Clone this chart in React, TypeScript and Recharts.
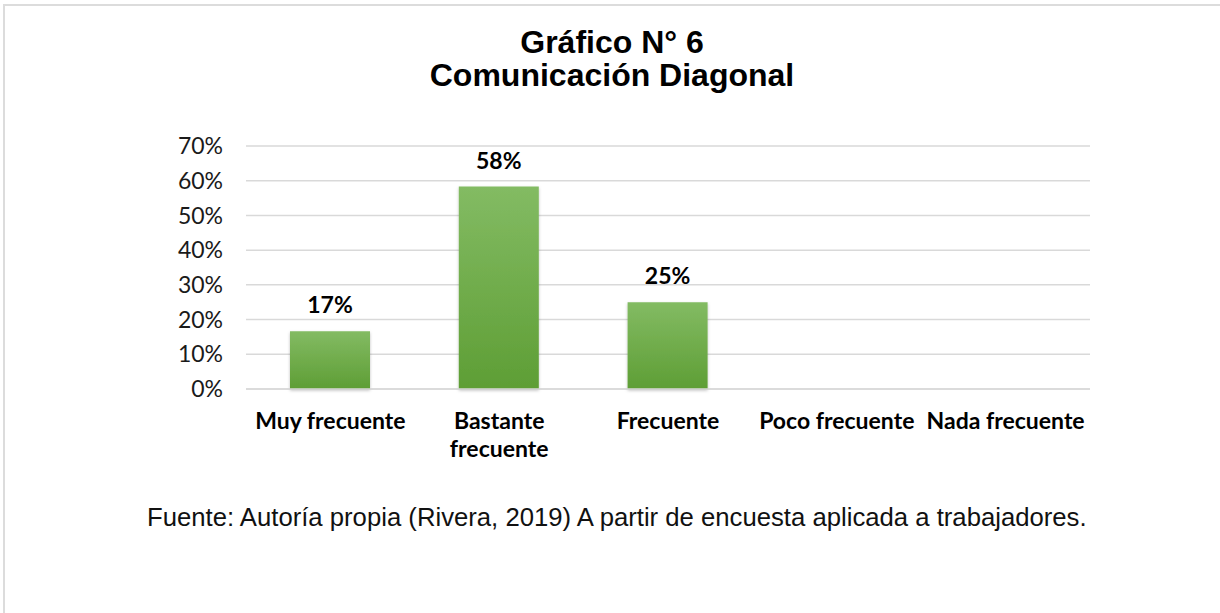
import { BarChart, Bar, XAxis, YAxis, CartesianGrid, LabelList } from "recharts";

const categories = ["Muy frecuente", "Bastante frecuente", "Frecuente", "Poco frecuente", "Nada frecuente"];
const shares = [0.1667, 0.5833, 0.25, 0, 0];
const yTicks = [0, 0.1, 0.2, 0.3, 0.4, 0.5, 0.6, 0.7];

const data = categories.map((name, i) => ({ name, value: shares[i] }));

const labelFont = "Lato, 'Open Sans', sans-serif";
const arial = "'Liberation Sans', Arial, sans-serif";

const pct = (v: number) => `${Math.round(v * 100)}%`;

// long labels break onto two lines like the spreadsheet did
const splitLabel = (s: string) => {
  if (s.length <= 15) return [s];
  const i = s.indexOf(" ");
  return [s.slice(0, i), s.slice(i + 1)];
};

const CategoryTick = ({ x, y, payload }: any) => {
  const lines = splitLabel(String(payload.value));
  return (
    <text x={x} y={y} textAnchor="middle" fill="#000" fontSize={23} fontWeight={700} fontFamily={labelFont}>
      {lines.map((l, i) => (
        <tspan key={i} x={x} dy={i === 0 ? 16 : 28}>
          {l}
        </tspan>
      ))}
    </text>
  );
};

export default function App() {
  return (
    <div style={{ position: "absolute", left: 0, top: 0, width: 1220, height: 613, background: "#fff", overflow: "hidden" }}>
      <div style={{ position: "absolute", left: 3, top: 4, width: 1230, height: 620, borderTop: "2px solid #dcdcdc", borderLeft: "2px solid #dcdcdc" }} />
      <div
        style={{
          position: "absolute", left: 0, top: 26, width: 1224, textAlign: "center",
          fontFamily: arial, fontWeight: 700, fontSize: 32, lineHeight: "33px", color: "#000",
        }}
      >
        Gráfico N° 6<br />Comunicación Diagonal
      </div>

      <div style={{ position: "absolute", left: 0, top: 0 }}>
        <BarChart width={1220} height={480} data={data} margin={{ top: 146, right: 130, bottom: 21, left: 0 }}>
          <defs>
            <linearGradient id="greenFill" x1="0" y1="0" x2="0" y2="1">
              <stop offset="0%" stopColor="#83bb63" />
              <stop offset="100%" stopColor="#5e9e35" />
            </linearGradient>
            <filter id="barShadow" x="-10%" y="-10%" width="120%" height="120%">
              <feDropShadow dx="0" dy="1.5" stdDeviation="1.5" floodColor="#000" floodOpacity="0.25" />
            </filter>
          </defs>
          <CartesianGrid vertical={false} stroke="#d9d9d9" strokeWidth={1.5} />
          <XAxis
            dataKey="name"
            height={70}
            interval={0}
            tickLine={false}
            tickSize={0}
            tickMargin={24}
            axisLine={{ stroke: "#d9d9d9", strokeWidth: 1.5 }}
            tick={<CategoryTick />}
          />
          <YAxis
            width={246}
            domain={[0, 0.7]}
            ticks={yTicks}
            tickFormatter={pct}
            axisLine={false}
            tickLine={false}
            tickSize={0}
            tickMargin={23}
            tick={{ fontSize: 23, fontFamily: labelFont, fill: "#1a1a1a" }}
          />
          <Bar dataKey="value" barSize={80} fill="url(#greenFill)" filter="url(#barShadow)" isAnimationActive={false}>
            <LabelList
              dataKey="value"
              position="top"
              offset={18}
              formatter={(v: any) => (v > 0 ? pct(v) : "")}
              style={{ fontSize: 23, fontWeight: 700, fontFamily: labelFont, fill: "#000" }}
            />
          </Bar>
        </BarChart>
      </div>

      <div
        style={{
          position: "absolute", left: 147, top: 502, whiteSpace: "nowrap",
          fontFamily: arial, fontSize: 25.7, lineHeight: "30px", color: "#111",
        }}
      >
        Fuente: Autoría propia (Rivera, 2019) A partir de encuesta aplicada a trabajadores.
      </div>
    </div>
  );
}
